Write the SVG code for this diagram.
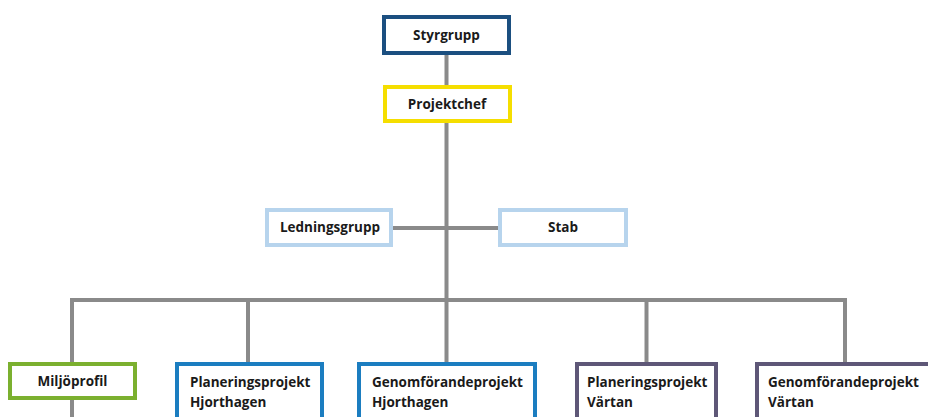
<svg xmlns="http://www.w3.org/2000/svg" width="928" height="417" viewBox="0 0 928 417">
<style>
.box{fill:#fff;stroke-width:4}
.t{font-family:"Open Sans","DejaVu Sans",sans-serif;font-weight:700;font-size:13.5px;fill:#1a1a1a}
.c{text-anchor:middle}
.ln{fill:none;stroke:#8a8a8a;stroke-width:4}
</style>
<rect width="928" height="417" fill="#fff"/>
<g id="connectors">
<path class="ln" d="M446.5 55 V362"/>
<path class="ln" d="M393 228 H498"/>
<path class="ln" d="M72 362 V300 H845 V362"/>
<path class="ln" d="M248 300 V362"/>
<path class="ln" d="M646.5 300 V362"/>
<path class="ln" d="M72 400 V417"/>
</g>
<g id="styrgrupp">
<rect class="box" x="384" y="17" width="125" height="36" stroke="#1b4f80"/>
<text class="t c" x="446.5" y="40">Styrgrupp</text>
</g>
<g id="projektchef">
<rect class="box" x="385" y="87" width="125" height="34" stroke="#f5de00"/>
<text class="t c" x="447" y="109">Projektchef</text>
</g>
<g id="ledningsgrupp">
<rect class="box" x="267" y="210" width="124" height="35" stroke="#b7d4ed"/>
<text class="t c" x="330" y="232">Ledningsgrupp</text>
</g>
<g id="stab">
<rect class="box" x="500" y="210" width="126" height="35" stroke="#b7d4ed"/>
<text class="t c" x="563" y="232">Stab</text>
</g>
<g id="miljoprofil">
<rect class="box" x="10" y="364" width="125" height="34" stroke="#7bb02f"/>
<text class="t c" x="72.5" y="386">Miljöprofil</text>
</g>
<g id="planering-hjorthagen">
<rect class="box" x="177" y="364" width="145" height="80" stroke="#1b7dc0"/>
<text class="t" x="190" y="387">Planeringsprojekt</text>
<text class="t" x="190" y="407">Hjorthagen</text>
</g>
<g id="genomforande-hjorthagen">
<rect class="box" x="359" y="364" width="176" height="80" stroke="#1b7dc0"/>
<text class="t" x="372" y="387">Genomförandeprojekt</text>
<text class="t" x="372" y="407">Hjorthagen</text>
</g>
<g id="planering-vartan">
<rect class="box" x="577" y="364" width="139" height="80" stroke="#5e5777"/>
<text class="t" x="587" y="387">Planeringsprojekt</text>
<text class="t" x="587" y="407">Värtan</text>
</g>
<g id="genomforande-vartan">
<rect class="box" x="757" y="364" width="200" height="80" stroke="#5e5777"/>
<text class="t" x="768" y="387">Genomförandeprojekt</text>
<text class="t" x="768" y="407">Värtan</text>
</g>
</svg>
